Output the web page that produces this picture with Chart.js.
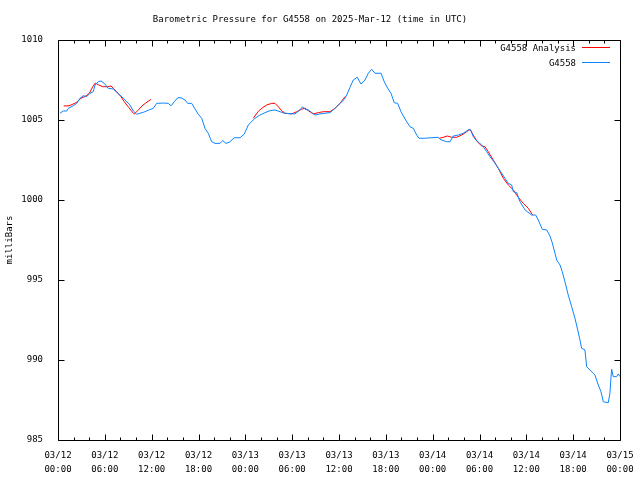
<!DOCTYPE html>
<html>
<head>
<meta charset="utf-8">
<script src="https://cdn.jsdelivr.net/npm/chart.js@4"></script>
<style>
  html, body { margin: 0; padding: 0; background: #fff; }
  #wrap { width: 640px; height: 480px; }
</style>
</head>
<body>
<div id="wrap"><canvas id="baroChart" width="640" height="480"></canvas></div>
<script>
// hours since 03/12 00:00 UTC
const blueHours = [0.26, 0.68, 1.11, 1.32, 1.96, 2.40, 2.82, 3.24, 3.68, 4.10, 4.52, 4.74, 5.16, 5.51, 5.93,
  6.44, 7.08, 7.52, 7.94, 8.37, 8.80, 9.22, 9.65, 10.08, 10.50, 10.93, 11.57, 12.21, 12.64, 13.49, 14.13,
  14.48, 14.90, 15.33, 15.76, 16.27, 16.62, 17.13, 17.55, 17.97, 18.41, 18.83, 19.25, 19.69, 20.11, 20.75,
  21.10, 21.52, 21.94, 22.59, 23.32, 23.87, 24.38, 25.24, 25.88, 26.52, 27.16, 27.80, 28.44, 28.99, 30.36,
  31.00, 31.32, 31.64, 32.07, 32.92, 33.56, 34.20, 34.85, 35.49, 36.13, 36.68, 36.98, 37.41, 37.83, 38.34,
  38.82, 39.33, 39.75, 40.19, 40.61, 41.38, 41.80, 42.24, 42.66, 43.08, 43.52, 43.94, 44.54, 45.09, 45.52,
  45.95, 46.25, 46.92, 48.72, 48.94, 49.79, 50.22, 50.64, 51.28, 51.92, 52.56, 52.87, 53.20, 53.55, 53.97,
  54.48, 54.92, 55.34, 55.85, 56.28, 56.71, 57.26, 57.69, 58.12, 58.33, 58.76, 59.18, 59.83, 60.68, 61.20,
  61.53, 62.04, 62.61, 63.03, 63.32, 63.67, 63.89, 64.31, 64.60, 64.95, 65.37, 65.81, 66.23, 66.58, 66.87,
  67.09, 67.51, 67.73, 68.15, 68.58, 68.79, 69.22, 69.56, 69.86, 70.50, 70.71, 70.84, 70.93, 71.14, 71.57,
  71.78, 72.0];
const blueValues = [1005.42, 1005.56, 1005.56, 1005.73, 1005.89, 1006.04, 1006.36, 1006.52, 1006.46, 1006.67,
  1006.77, 1007.19, 1007.39, 1007.44, 1007.29, 1006.98, 1006.94, 1006.73, 1006.56, 1006.36, 1006.14, 1005.94,
  1005.56, 1005.36, 1005.42, 1005.48, 1005.61, 1005.73, 1006.04, 1006.06, 1006.04, 1005.89, 1006.14, 1006.39,
  1006.39, 1006.25, 1006.04, 1006.04, 1005.69, 1005.36, 1005.11, 1004.48, 1004.17, 1003.64, 1003.54, 1003.54,
  1003.71, 1003.54, 1003.61, 1003.89, 1003.89, 1004.13, 1004.69, 1005.11, 1005.31, 1005.46, 1005.58, 1005.63,
  1005.52, 1005.42, 1005.38, 1005.63, 1005.83, 1005.67, 1005.63, 1005.31, 1005.38, 1005.42, 1005.46, 1005.73,
  1006.04, 1006.29, 1006.56, 1007.04, 1007.50, 1007.67, 1007.25, 1007.50, 1007.92, 1008.17, 1007.92, 1007.92,
  1007.39, 1006.98, 1006.67, 1006.08, 1006.04, 1005.52, 1005.00, 1004.58, 1004.48, 1004.06, 1003.86, 1003.86,
  1003.92, 1003.79, 1003.64, 1003.64, 1004.00, 1004.06, 1004.17, 1004.38, 1004.38, 1003.96, 1003.75, 1003.58,
  1003.33, 1003.02, 1002.71, 1002.39, 1002.08, 1001.77, 1001.36, 1001.04, 1000.94, 1000.52, 1000.46, 999.90,
  999.38, 999.06, 999.06, 998.75, 998.17, 998.13, 997.75, 997.33, 996.67, 996.25, 995.94, 995.52, 994.89,
  994.06, 993.33, 992.61, 991.88, 991.25, 990.73, 990.63, 989.58, 989.38, 989.17, 989.06, 988.44, 988.02,
  987.39, 987.33, 987.92, 988.86, 989.42, 988.96, 988.96, 989.13, 988.96];

// analysis series, null marks a break between segments
const redHours = [0.74, 1.28, 1.67, 2.31, 2.95, 3.59, 4.01, 4.45, 4.78, 5.21, 5.73, 6.37, 6.79, 7.08, 7.52,
  8.07, 8.49, 9.06, 9.48, 9.77, 10.21, 10.76, 11.18, 11.91, 18.0,
  25.02, 25.66, 26.10, 26.74, 27.38, 27.80, 28.22, 28.66, 29.08, 29.94, 30.58, 31.22, 31.64, 32.07, 32.71,
  33.35, 33.99, 34.85, 35.49, 36.13, 36.77, 42.0,
  48.85, 49.36, 49.87, 50.44, 51.08, 51.72, 52.36, 52.78, 53.20, 53.72, 54.28, 54.70, 55.12, 55.77, 56.41,
  57.05, 57.69, 58.33, 58.97, 59.61, 60.25, 60.81];
const redValues = [1005.88, 1005.88, 1005.94, 1006.08, 1006.36, 1006.50, 1006.67, 1007.08, 1007.31, 1007.19,
  1007.08, 1007.08, 1007.13, 1006.98, 1006.77, 1006.46, 1006.14, 1005.79, 1005.52, 1005.38, 1005.58, 1005.88,
  1006.04, 1006.29, null,
  1005.11, 1005.54, 1005.73, 1005.94, 1006.04, 1006.04, 1005.83, 1005.58, 1005.42, 1005.38, 1005.52, 1005.67,
  1005.75, 1005.58, 1005.38, 1005.46, 1005.52, 1005.52, 1005.73, 1006.04, 1006.46, null,
  1003.86, 1003.92, 1004.00, 1003.92, 1003.92, 1004.06, 1004.27, 1004.42, 1004.06, 1003.64, 1003.38, 1003.33,
  1003.02, 1002.50, 1001.98, 1001.36, 1000.94, 1000.63, 1000.17, 999.79, 999.48, 999.06];

const xTickDates = ['03/12', '03/12', '03/12', '03/12', '03/13', '03/13', '03/13', '03/13',
  '03/14', '03/14', '03/14', '03/14', '03/15'];
const xTickTimes = ['00:00', '06:00', '12:00', '18:00', '00:00', '06:00', '12:00', '18:00',
  '00:00', '06:00', '12:00', '18:00', '00:00'];

const seriesLabels = ['G4558 Analysis', 'G4558'];
const seriesColors = ['#ff0000', '#0a84ff'];

const FONT = '"DejaVu Sans Mono", "Liberation Mono", monospace';

const toPoints = (xs, ys) => xs.map((x, i) => ({ x: x, y: ys[i] }));

// gnuplot-like frame with inward ticks on all four sides
const framePlugin = {
    id: 'frame',
    afterDatasetsDraw(chart) {
        const ctx = chart.ctx;
        const area = chart.chartArea;
        const xs = chart.scales.x;
        const ys = chart.scales.y;
        const L = Math.round(area.left) + 0.5, R = Math.round(area.right) + 0.5;
        const T = Math.round(area.top) + 0.5, B = Math.round(area.bottom) + 0.5;
        ctx.save();
        ctx.strokeStyle = '#000';
        ctx.lineWidth = 1;
        ctx.beginPath();
        ctx.rect(L, T, R - L, B - T);
        for (let h = 0; h <= 72; h += 2) {
            const px = Math.round(xs.getPixelForValue(h)) + 0.5;
            const len = h % 6 === 0 ? 6 : 3;
            ctx.moveTo(px, B); ctx.lineTo(px, B - len);
            ctx.moveTo(px, T); ctx.lineTo(px, T + len);
        }
        ys.ticks.forEach(t => {
            const py = Math.round(ys.getPixelForValue(t.value)) + 0.5;
            ctx.moveTo(L, py); ctx.lineTo(L + 6, py);
            ctx.moveTo(R, py); ctx.lineTo(R - 6, py);
        });
        ctx.stroke();
        ctx.restore();
    }
};

// legend: right-aligned text followed by a line sample
const legendPlugin = {
    id: 'gpLegend',
    afterDraw(chart) {
        const ctx = chart.ctx;
        ctx.save();
        ctx.font = '9px ' + FONT;
        ctx.textAlign = 'right';
        ctx.textBaseline = 'middle';
        seriesLabels.forEach((label, i) => {
            const y = 49 + i * 15;
            ctx.fillStyle = '#000';
            ctx.fillText(label, 576, y);
            ctx.strokeStyle = seriesColors[i];
            ctx.lineWidth = 1;
            ctx.beginPath();
            ctx.moveTo(582, y - 1.5);
            ctx.lineTo(610, y - 1.5);
            ctx.stroke();
        });
        ctx.restore();
    }
};

const ctx = document.getElementById('baroChart').getContext('2d');

new Chart(ctx, {
    type: 'line',
    data: {
        datasets: [
            {
                label: seriesLabels[0],
                data: toPoints(redHours, redValues),
                borderColor: seriesColors[0],
                borderWidth: 1,
                pointRadius: 0,
                tension: 0,
                spanGaps: false,
                order: 1
            },
            {
                label: seriesLabels[1],
                data: toPoints(blueHours, blueValues),
                borderColor: seriesColors[1],
                borderWidth: 1,
                pointRadius: 0,
                tension: 0,
                order: 0
            }
        ]
    },
    options: {
        responsive: false,
        animation: false,
        layout: { padding: { left: 0, right: 20, top: 0, bottom: 0 } },
        plugins: {
            legend: { display: false },
            tooltip: { enabled: false },
            title: {
                display: true,
                text: 'Barometric Pressure for G4558 on 2025-Mar-12 (time in UTC)',
                color: '#000',
                font: { family: FONT, size: 9, weight: 'normal', lineHeight: 1.2 },
                padding: { top: 14, bottom: 15.2 }
            }
        },
        scales: {
            x: {
                type: 'linear',
                min: 0,
                max: 72,
                grid: { display: false },
                border: { display: false },
                afterFit: (scale) => { scale.height = 40; },
                ticks: {
                    stepSize: 6,
                    autoSkip: false,
                    maxRotation: 0,
                    padding: 0,
                    color: '#000',
                    font: { family: FONT, size: 9, lineHeight: 1.6 },
                    callback: (value) => {
                        const i = Math.round(value / 6);
                        return [xTickDates[i], xTickTimes[i]];
                    }
                }
            },
            y: {
                min: 985,
                max: 1010,
                grid: { display: false },
                border: { display: false },
                afterFit: (scale) => { scale.width = 58; },
                title: {
                    display: true,
                    text: 'milliBars',
                    color: '#000',
                    font: { family: FONT, size: 9 },
                    padding: { top: 4, bottom: 4 }
                },
                ticks: {
                    stepSize: 5,
                    padding: 7,
                    color: '#000',
                    font: { family: FONT, size: 9 },
                    callback: (value) => String(value)
                }
            }
        }
    },
    plugins: [framePlugin, legendPlugin]
});
</script>
</body>
</html>
